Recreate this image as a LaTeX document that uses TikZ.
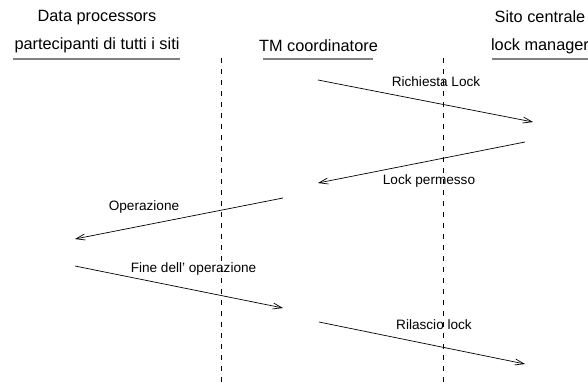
\documentclass[tikz,border=0pt]{standalone}
\usepackage{fontspec}
\setmainfont{Liberation Sans}
\usetikzlibrary{arrows.meta}
\begin{document}
\begin{tikzpicture}[x=1pt, y=-1pt]
        \tikzstyle{head_text}  = [align=center, font=\fontsize{16.3}{28}\selectfont, inner sep=0pt]
        \tikzstyle{head_line}  = [draw=gray, line width=1.5pt]
        \tikzstyle{time_line}  = [draw=black, line width=0.7pt, dash pattern=on 5pt off 6pt]
        \tikzstyle{msg}        = [->, >={Straight Barb[length=9pt, width=6pt]}, line width=0.7pt]
        \tikzstyle{msg_label}  = [font=\fontsize{13.6}{15}\selectfont, inner sep=0pt]

        \useasboundingbox (0,0) rectangle (588,386);

        % intestazioni
        \node[head_text] at (97, 32)  (dp) {Data processors\\partecipanti di tutti i siti};
        \node[head_text] at (318.5, 46) (tm) {TM coordinatore};
        \node[head_text] at (540, 32) (lm) {Sito centrale\\lock manager};

        \draw[head_line] (13, 59) -- (180, 59);
        \draw[head_line] (263, 59) -- (373, 59);
        \draw[head_line] (492, 59) -- (600, 59);

        % linee verticali
        \draw[time_line] (221, 58) -- (221, 386);
        \draw[time_line] (443, 58) -- (443, 386);

        % estremi dei messaggi
        \coordinate (rl_a) at (318, 80);  \coordinate (rl_b) at (533, 122);
        \coordinate (lp_a) at (525, 142); \coordinate (lp_b) at (318, 183);
        \coordinate (op_a) at (283, 198); \coordinate (op_b) at (75, 239);
        \coordinate (fo_a) at (75, 266);  \coordinate (fo_b) at (283, 308);
        \coordinate (rk_a) at (319, 322); \coordinate (rk_b) at (525, 364);

        \path
          (rl_a) edge[msg] (rl_b)
          (lp_a) edge[msg] (lp_b)
          (op_a) edge[msg] (op_b)
          (fo_a) edge[msg] (fo_b)
          (rk_a) edge[msg] (rk_b)
        ;

        \node[msg_label] at (436, 82)  (rl) {Richiesta Lock};
        \node[msg_label] at (429, 181) (lp) {Lock permesso};
        \node[msg_label] at (144, 207) (op) {Operazione};
        \node[msg_label] at (193.5, 269) (fo) {Fine dell' operazione};
        \node[msg_label] at (434, 325) (rk) {Rilascio lock};
      \end{tikzpicture}
\end{document}
